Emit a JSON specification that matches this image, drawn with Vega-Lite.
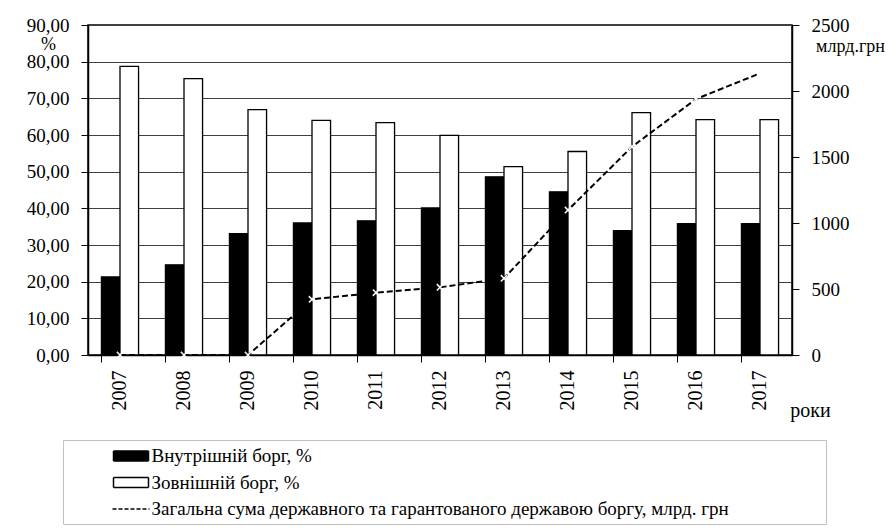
{
  "$schema": "https://vega.github.io/schema/vega-lite/v6.json",
  "width": 704,
  "height": 330,
  "autosize": "none",
  "padding": {"left": 88, "top": 25, "right": 104, "bottom": 175},
  "background": "white",
  "config": {
    "locale": {"number": {"decimal": ",", "thousands": " ", "grouping": [3], "currency": ["", ""]}},
    "font": "Liberation Serif",
    "view": {"stroke": "black", "strokeWidth": 1.5},
    "axis": {
      "labelFont": "Liberation Serif", "titleFont": "Liberation Serif",
      "labelFontSize": 19, "titleFontSize": 18, "labelColor": "black", "titleColor": "black",
      "domainColor": "black", "domainWidth": 1.5, "tickColor": "black", "tickWidth": 1, "titleFontWeight": "normal"
    }
  },
  "datasets": {
    "bars": [
      {"year": "2007", "series": "Внутрішній борг, %", "value": 21.3},
      {"year": "2007", "series": "Зовнішній борг, %", "value": 78.7},
      {"year": "2008", "series": "Внутрішній борг, %", "value": 24.6},
      {"year": "2008", "series": "Зовнішній борг, %", "value": 75.4},
      {"year": "2009", "series": "Внутрішній борг, %", "value": 33.1},
      {"year": "2009", "series": "Зовнішній борг, %", "value": 66.9},
      {"year": "2010", "series": "Внутрішній борг, %", "value": 36.0},
      {"year": "2010", "series": "Зовнішній борг, %", "value": 64.0},
      {"year": "2011", "series": "Внутрішній борг, %", "value": 36.6},
      {"year": "2011", "series": "Зовнішній борг, %", "value": 63.4},
      {"year": "2012", "series": "Внутрішній борг, %", "value": 40.1},
      {"year": "2012", "series": "Зовнішній борг, %", "value": 59.9},
      {"year": "2013", "series": "Внутрішній борг, %", "value": 48.6},
      {"year": "2013", "series": "Зовнішній борг, %", "value": 51.4},
      {"year": "2014", "series": "Внутрішній борг, %", "value": 44.5},
      {"year": "2014", "series": "Зовнішній борг, %", "value": 55.5},
      {"year": "2015", "series": "Внутрішній борг, %", "value": 33.9},
      {"year": "2015", "series": "Зовнішній борг, %", "value": 66.1},
      {"year": "2016", "series": "Внутрішній борг, %", "value": 35.8},
      {"year": "2016", "series": "Зовнішній борг, %", "value": 64.2},
      {"year": "2017", "series": "Внутрішній борг, %", "value": 35.8},
      {"year": "2017", "series": "Зовнішній борг, %", "value": 64.2}
    ],
    "total": [
      {"year": "2007", "total": 0},
      {"year": "2008", "total": 0},
      {"year": "2009", "total": 0},
      {"year": "2010", "total": 422},
      {"year": "2011", "total": 472},
      {"year": "2012", "total": 513},
      {"year": "2013", "total": 581},
      {"year": "2014", "total": 1098},
      {"year": "2015", "total": 1578},
      {"year": "2016", "total": 1939},
      {"year": "2017", "total": 2134}
    ]
  },
  "layer": [
    {
      "data": {"name": "bars"},
      "mark": {"type": "bar", "stroke": "black", "strokeWidth": 1.3},
      "encoding": {
        "x": {
          "field": "year", "type": "ordinal",
          "scale": {"paddingInner": 0.42, "paddingOuter": 0.21},
          "axis": {
            "title": "роки", "titleAngle": 0, "titleX": 722, "titleY": 55, "titleFontSize": 20,
            "titleAlign": "center", "titleBaseline": "middle",
            "bandPosition": 0, "labelAngle": -90, "labelAlign": "right", "labelBaseline": "middle",
            "labelFontSize": 20, "tickSize": 7, "labelPadding": 8, "grid": false
          }
        },
        "xOffset": {"field": "series", "sort": ["Внутрішній борг, %", "Зовнішній борг, %"]},
        "y": {
          "field": "value", "type": "quantitative", "stack": null,
          "scale": {"domain": [0, 90], "nice": false},
          "axis": {
            "title": "%", "titleAngle": 0, "titleX": -40, "titleY": 19,
            "titleAlign": "center", "titleBaseline": "middle",
            "values": [0, 10, 20, 30, 40, 50, 60, 70, 80, 90], "format": ".2f",
            "tickSize": 7, "labelPadding": 12, "grid": true, "gridColor": "#404040", "gridWidth": 1
          }
        },
        "fill": {
          "field": "series", "type": "nominal",
          "scale": {
            "domain": ["Внутрішній борг, %", "Зовнішній борг, %", "Загальна сума державного та гарантованого державою боргу, млрд. грн"],
            "range": ["black", "white", "white"]
          },
          "legend": {
            "orient": "none", "legendX": -25, "legendY": 415, "direction": "vertical",
            "title": " ", "titleOrient": "right", "titlePadding": 92,
            "padding": 5, "strokeColor": "#c0c0c0", "fillColor": "white",
            "symbolOffset": 52, "symbolType": "M-1.75,-0.5H1.75V0.5H-1.75Z", "symbolSize": 400,
            "symbolStrokeColor": "black", "symbolStrokeWidth": 1.5,
            "labelFont": "Liberation Serif", "labelFontSize": 19, "labelColor": "black",
            "labelOffset": 9.5, "labelLimit": 800, "rowPadding": 5.5,
            "encode": {
              "symbols": {
                "update": {
                  "shape": [
                    {"test": "datum.index === 2", "value": "M-1.85,0H1.85"},
                    {"value": "M-1.75,-0.5H1.75V0.5H-1.75Z"}
                  ],
                  "strokeDash": [
                    {"test": "datum.index === 2", "value": [4, 2]},
                    {"value": [1, 0]}
                  ]
                }
              }
            }
          }
        }
      }
    },
    {
      "data": {"name": "total"},
      "encoding": {
        "x": {"field": "year", "type": "ordinal"},
        "y": {
          "field": "total", "type": "quantitative",
          "scale": {"domain": [0, 2500], "nice": false},
          "axis": {
            "orient": "right", "title": "млрд.грн", "titleAngle": 0, "titleX": 58, "titleY": 21,
            "titleAlign": "center", "titleBaseline": "middle",
            "values": [0, 500, 1000, 1500, 2000, 2500], "format": "d",
            "tickSize": 7, "labelPadding": 12, "grid": false
          }
        }
      },
      "layer": [
        {"mark": {"type": "line", "color": "black", "strokeDash": [6, 3], "strokeWidth": 2}},
        {"mark": {"type": "point", "shape": "M-1,-1L1,1M-1,1L1,-1", "stroke": "white", "strokeWidth": 1.5, "size": 40, "filled": false, "opacity": 1}}
      ]
    }
  ],
  "resolve": {"scale": {"y": "independent"}, "axis": {"y": "independent"}}
}
